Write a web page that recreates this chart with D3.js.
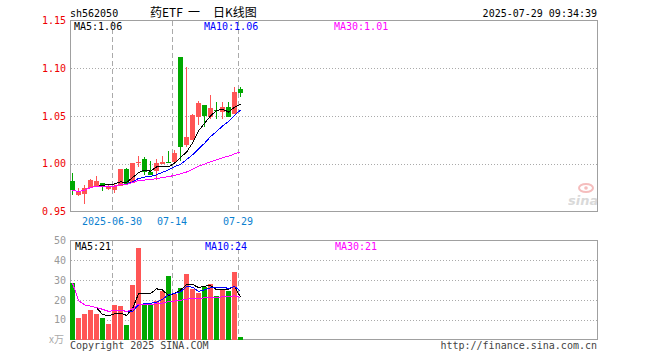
<!DOCTYPE html>
<html>
<head>
<meta charset="utf-8">
<script src="https://cdn.jsdelivr.net/npm/d3@7"></script>
<style>
  body { margin: 0; background: #fff; }
  text { font-family: "DejaVu Sans Mono", monospace; font-size: 10px; }
</style>
</head>
<body>
<svg id="chart" width="660" height="360"></svg>
<script>
// daily bars, 562050
const dates = ["2025-06-19","2025-06-20","2025-06-23","2025-06-24","2025-06-25","2025-06-26","2025-06-27",
  "2025-06-30","2025-07-01","2025-07-02","2025-07-03","2025-07-04","2025-07-07","2025-07-08","2025-07-09",
  "2025-07-10","2025-07-11","2025-07-14","2025-07-15","2025-07-16","2025-07-17","2025-07-18","2025-07-21",
  "2025-07-22","2025-07-23","2025-07-24","2025-07-25","2025-07-28","2025-07-29"];
const openP  = [0.982,0.967,0.968,0.975,0.977,0.980,0.974,0.973,0.977,0.994,0.980,1.001,1.005,0.991,0.992,
  1.000,1.002,1.002,1.112,1.020,1.025,1.049,1.062,1.049,1.056,1.054,1.059,1.052,1.078];
const highP  = [0.990,0.975,0.978,0.984,0.987,0.980,0.979,0.980,0.994,0.996,1.001,1.008,1.007,1.003,1.005,
  1.008,1.013,1.014,1.112,1.101,1.052,1.066,1.062,1.072,1.065,1.065,1.065,1.080,1.080];
const lowP   = [0.967,0.966,0.958,0.975,0.976,0.971,0.973,0.969,0.977,0.979,0.980,0.997,0.988,0.988,0.983,
  1.000,1.001,1.002,1.003,1.018,1.025,1.041,1.039,1.047,1.047,1.047,1.049,1.052,1.070];
const closeP = [0.972,0.970,0.975,0.983,0.982,0.976,0.976,0.977,0.994,0.979,1.001,1.002,0.991,0.988,1.001,
  1.002,1.001,1.011,1.018,1.028,1.051,1.064,1.050,1.058,1.055,1.059,1.049,1.075,1.074];
const volume = [28.5,11,13,15,13,11,8,17.5,17,7.5,27.5,46,17.5,17.5,19.5,24.5,32,23,26,33,25.5,23.5,26.5,
  28,22,25.5,24.5,34,1.2];

const priceTicks = [0.95, 1.00, 1.05, 1.10, 1.15];
const volTicks = [10, 20, 30, 40, 50];
const tickDates = ["2025-06-30", "2025-07-14", "2025-07-29"];
const tickLabels = ["2025-06-30", "07-14", "07-29"];

const RED = "#ff5555", GREEN = "#00a800";
const svg = d3.select("#chart");

// 88 slots, 6px step, 5px bodies
const x = d3.scaleBand().domain(d3.range(88)).range([70, 598])
  .paddingInner(1/6).paddingOuter(1/12).align(0);
const y = d3.scaleLinear().domain([0.95, 1.15]).range([211.5, 20.5]);
const yv = d3.scaleLinear().domain([0, 50]).range([339.5, 240.5]);

const idx = d3.range(dates.length);
const up = i => closeP[i] >= openP[i];
const cx = i => x(i) + x.bandwidth() / 2;

function ma(arr, n, partial) {
  return arr.map((_, i) => {
    if (i < n - 1 && !partial) return null;
    return d3.mean(arr.slice(Math.max(0, i - n + 1), i + 1));
  });
}

// frames, grids
function panel(top, bottom, scale, ticks) {
  svg.append("rect").attr("x", 70.5).attr("y", top).attr("width", 527).attr("height", bottom - top)
    .attr("fill", "none").attr("stroke", "#a0a0a0");
  svg.append("g").selectAll("line").data(ticks).join("line")
    .attr("x1", 71).attr("x2", 597)
    .attr("y1", d => Math.round(scale(d)) + 0.5).attr("y2", d => Math.round(scale(d)) + 0.5)
    .attr("stroke", "#aaa").attr("stroke-dasharray", "1,2");
  svg.append("g").selectAll("line").data(tickDates).join("line")
    .attr("x1", d => x(dates.indexOf(d)) + 0.5).attr("x2", d => x(dates.indexOf(d)) + 0.5)
    .attr("y1", top + 0.5).attr("y2", bottom)
    .attr("stroke", "#aaa").attr("stroke-dasharray", "5,3");
}
panel(20.5, 211.5, y, [1.00, 1.05, 1.10]);
panel(240.5, 339.5, yv, [10, 20, 30, 40]);

// axes
function styleAxis(g, color) {
  g.select(".domain").remove();
  g.selectAll("text").attr("fill", color)
    .style("font-family", '"DejaVu Sans Mono", monospace').style("font-size", "10px");
}
svg.append("g").attr("transform", "translate(70,0)")
  .call(d3.axisLeft(y).tickValues(priceTicks).tickFormat(d3.format(".2f")).tickSize(0).tickPadding(4))
  .call(g => styleAxis(g, "#ee0000"));
svg.append("g").attr("transform", "translate(70,0)")
  .call(d3.axisLeft(yv).tickValues(volTicks).tickSize(0).tickPadding(4))
  .call(g => styleAxis(g, "#999"));
svg.append("g").attr("transform", `translate(${-x.bandwidth() / 2},211.5)`)
  .call(d3.axisBottom(x).tickValues(tickDates.map(d => dates.indexOf(d)))
    .tickFormat((d, k) => tickLabels[k]).tickSize(0).tickPadding(6))
  .call(g => styleAxis(g, "#0b7fd0"));

// watermark
const wm = svg.append("g").attr("opacity", 0.55);
wm.append("ellipse").attr("cx", 586).attr("cy", 188).attr("rx", 7).attr("ry", 4)
  .attr("fill", "none").attr("stroke", "#e88").attr("stroke-width", 2);
wm.append("circle").attr("cx", 586).attr("cy", 188).attr("r", 1.8).attr("fill", "#e88");
wm.append("text").attr("x", 568).attr("y", 205).text("sina")
  .style("font-family", "DejaVu Sans").style("font-size", "13px")
  .style("font-weight", "bold").style("font-style", "italic").attr("fill", "#bbb");

// candles
const candles = svg.append("g").attr("shape-rendering", "crispEdges");
candles.selectAll("line").data(idx).join("line")
  .attr("x1", cx).attr("x2", cx)
  .attr("y1", i => y(highP[i])).attr("y2", i => y(lowP[i]))
  .attr("stroke", i => up(i) ? RED : GREEN);
candles.selectAll("rect").data(idx).join("rect")
  .attr("x", i => x(i)).attr("width", x.bandwidth())
  .attr("y", i => y(Math.max(openP[i], closeP[i])))
  .attr("height", i => Math.max(1, Math.abs(y(openP[i]) - y(closeP[i]))))
  .attr("fill", i => up(i) ? RED : GREEN);

// volume bars
svg.append("g").attr("shape-rendering", "crispEdges")
  .selectAll("rect").data(idx).join("rect")
  .attr("x", i => x(i)).attr("width", x.bandwidth())
  .attr("y", i => yv(volume[i])).attr("height", i => yv(0) - yv(volume[i]))
  .attr("fill", i => up(i) ? RED : GREEN);

// moving averages
const maDefs = [
  { n: 5, partial: false, color: "#000" },
  { n: 10, partial: false, color: "#0000ff" },
  { n: 30, partial: true, color: "#ff00ff" }
];
function drawMA(arr, scale) {
  maDefs.forEach(m => {
    const vals = ma(arr, m.n, m.partial);
    svg.append("path").datum(idx)
      .attr("d", d3.line().defined(i => vals[i] != null).x(cx).y(i => scale(vals[i])))
      .attr("fill", "none").attr("stroke", m.color).attr("stroke-width", 1)
      .attr("shape-rendering", "crispEdges");
  });
}
drawMA(closeP, y);
drawMA(volume, yv);

// header texts
const last = dates.length - 1;
svg.append("text").attr("x", 70).attr("y", 16.5).text("sh562050");
const title = svg.append("text").attr("y", 16.5)
  .style("font-family", '"Noto Sans CJK SC", sans-serif').style("font-size", "12px");
title.append("tspan").attr("x", 150).text("药ETF");
title.append("tspan").attr("x", 188).text("一");
title.append("tspan").attr("x", 213).text("日K线图");
svg.append("text").attr("x", 597).attr("y", 16.5).attr("text-anchor", "end").text("2025-07-29 09:34:39");

const labelX = [74, 204, 334];
maDefs.forEach((m, k) => {
  const pv = ma(closeP, m.n, m.partial)[last];
  const vv = ma(volume, m.n, m.partial)[last];
  svg.append("text").attr("x", labelX[k]).attr("y", 30).attr("fill", m.color)
    .text(`MA${m.n}:${pv.toFixed(2)}`);
  svg.append("text").attr("x", labelX[k] + 1).attr("y", 249.5).attr("fill", m.color)
    .text(`MA${m.n}:${Math.round(vv)}`);
});

svg.append("text").attr("x", 64).attr("y", 343).attr("text-anchor", "end").attr("fill", "#aaa")
  .style("font-family", '"Noto Sans CJK SC", sans-serif').text("x万");
svg.append("text").attr("x", 70).attr("y", 349).attr("fill", "#444").text("Copyright 2025 SINA.COM");
svg.append("text").attr("x", 597).attr("y", 349).attr("text-anchor", "end").attr("fill", "#444")
  .text("http://finance.sina.com.cn");
</script>
</body>
</html>
